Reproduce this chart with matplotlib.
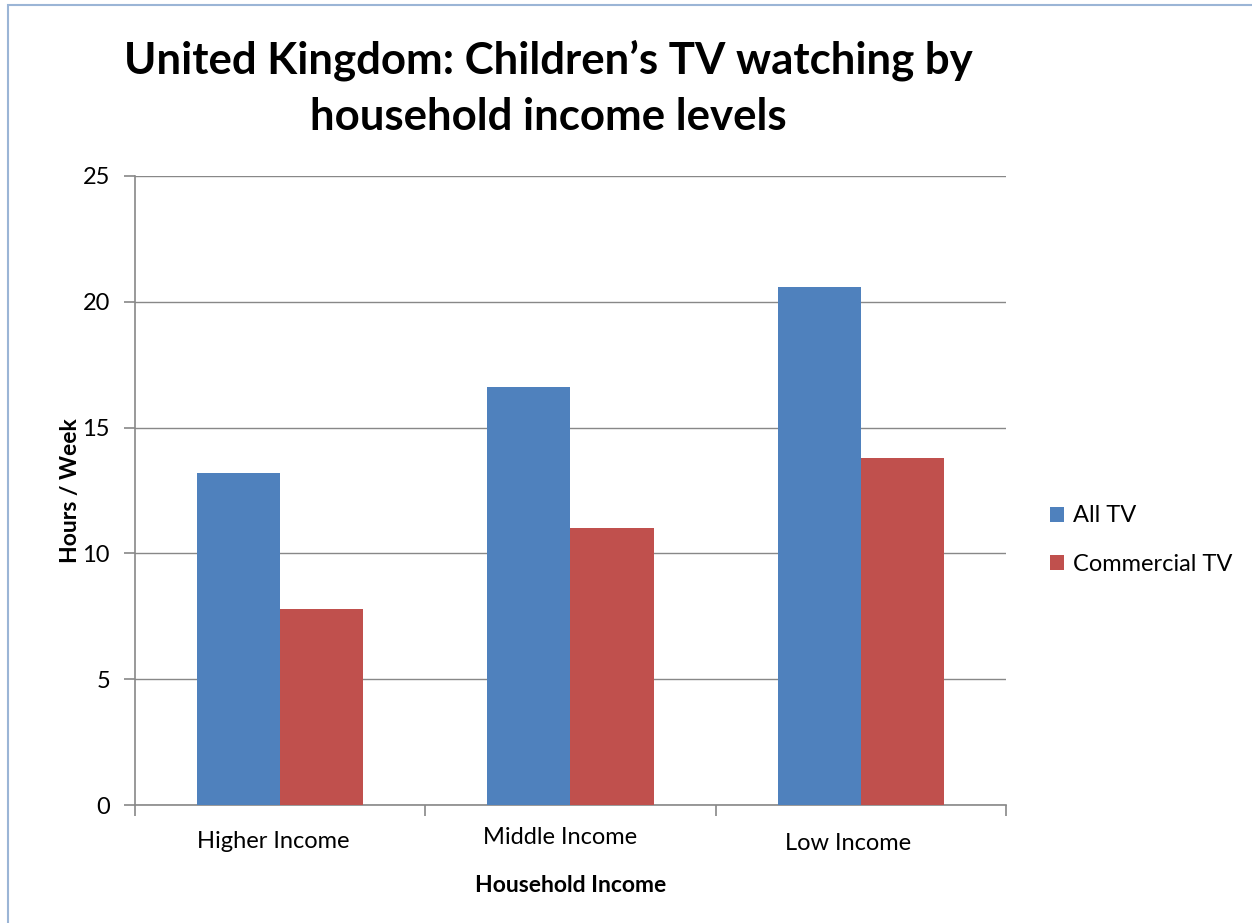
import matplotlib.pyplot as plt
from matplotlib.patches import Rectangle

categories = ["Higher Income", "Middle Income", "Low Income"]
all_tv = [13.2, 16.6, 20.6]
commercial_tv = [7.8, 11.0, 13.8]
series_names = ["All TV", "Commercial TV"]
y_ticks = [0, 5, 10, 15, 20, 25]

plt.rcParams['font.family'] = ['Lato', 'DejaVu Sans']

W, H = 1252, 923
fig = plt.figure(figsize=(W / 100, H / 100), dpi=100)

# chart frame
fig.patches.append(Rectangle((8 / W, -0.01), 1.2, 1 - 5 / H + 0.01, transform=fig.transFigure,
                             fill=False, edgecolor='#9bb5d6', linewidth=1.5))

ax = fig.add_axes([135 / W, 1 - 805 / H, (1006 - 135) / W, (805 - 176) / H])

blue = '#4f81bd'
red = '#c0504d'
grid_c = '#888888'
fs = 17
bw = 0.286
x = list(range(len(categories)))
ax.bar([i - bw / 2 for i in x], all_tv, width=bw, color=blue, label=series_names[0], zorder=3)
ax.bar([i + bw / 2 for i in x], commercial_tv, width=bw, color=red, label=series_names[1], zorder=3)

ax.set_xlim(-0.5, len(categories) - 0.5)
ax.set_ylim(0, 25)
ax.set_yticks(y_ticks)
ax.set_yticklabels([str(v) for v in y_ticks], fontsize=fs)
ax.yaxis.grid(True, color=grid_c, linewidth=1)
ax.set_axisbelow(True)

# category boundary ticks, with labels placed under each group
ax.set_xticks([-0.5, 0.5, 1.5, 2.5])
ax.set_xticklabels([])
ax.tick_params(axis='x', length=8, color=grid_c, width=1.2)
ax.tick_params(axis='y', length=8, color=grid_c, width=1.2, pad=10)
label_offsets = [(-7, 36), (-10, 33), (-13, 39)]
for i, (cat, (dx, dy)) in enumerate(zip(categories, label_offsets)):
    ax.annotate(cat, xy=(i, 0), xycoords=('data', 'axes fraction'), xytext=(dx, -dy),
                textcoords='offset pixels', ha='center', va='center', fontsize=fs)

for s in ['top', 'right']:
    ax.spines[s].set_visible(False)
for s in ['left', 'bottom']:
    ax.spines[s].set_color(grid_c)
    ax.spines[s].set_linewidth(1.2)

ax.set_xlabel("Household Income", fontsize=16.5, fontweight='bold', labelpad=39)
ax.set_ylabel("Hours / Week", fontsize=16.5, fontweight='bold', labelpad=1)

fig.text(548 / W, 1 - 88 / H, "United Kingdom: Children\u2019s TV watching by\nhousehold income levels",
         ha='center', va='center', fontsize=31.5, fontweight='bold', linespacing=1.5)

leg = ax.legend(loc='center left', bbox_to_anchor=(1029 / W, 1 - 540 / H),
                bbox_transform=fig.transFigure, frameon=False, fontsize=fs,
                handlelength=0.6, handleheight=0.6, handletextpad=0.35, labelspacing=1.15)

fig.savefig("out.png", dpi=100)
